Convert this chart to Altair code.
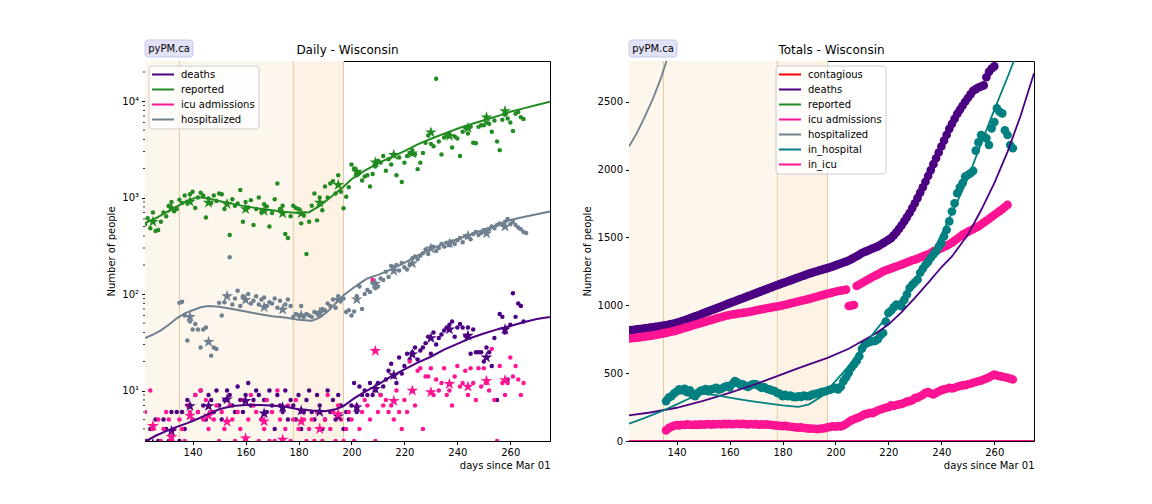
import altair as alt
import pandas as pd

FONT = "DejaVu Sans"
INDIGO = "#4b0082"
GREEN = "#228b22"
PINK = "#ff1493"
GRAY = "#708090"
TEAL = "#008080"
RED = "#ff0000"

# ---------------- common ----------------
X_DOMAIN = [122, 275]
X_TICKS = [140, 160, 180, 200, 220, 240, 260]
span_start = [122, 135, 178]
span_end = [135, 178, 197]
span_color = ["#fdf6ec", "#fdf6ec", "#fdf2e4"]
boundary_days = [135, 178, 197]
minor_ticks = [4, 5, 6, 7, 8, 9, 20, 30, 40, 50, 60, 70, 80, 90,
               200, 300, 400, 500, 600, 700, 800, 900,
               2000, 3000, 4000, 5000, 6000, 7000, 8000, 9000, 20000]

# ---------------- left panel: daily ----------------
daily_days = list(range(122, 266))
reported_daily = [
    530, 610, 480, 700, 450, 460, 560,
    700, 640, 820, 900, 720, 760, 950,
    880, 1050, 870, 1080, 1150, 780, 1000,
    1120, 1050, 620, 980, 880, 1050, 920,
    1100, 1080, 760, 880, 410, 960, 820,
    870, 1200, 560, 900, 790, 940, 520,
    760, 1000, 700, 850, 810, 500, 690,
    960, 1400, 760, 820, 420, 380, 640,
    820, 780, 760, 540, 650, 260, 560,
    820, 1100, 580, 1000, 740, 1300, 1000,
    1400, 1480, 1100, 1700, 1150, 775, 1020,
    1280, 2200, 2000, 1700, 1800, 1500, 1650,
    1700, 1300, 1750, 2100, 2400, 2300, 2700,
    1900, 2500, 2200, 2800, 1700, 2600, 1450,
    2300, 2700, 2900, 3100, 2800, 1970, 2300,
    2900, 3700, 4400, 3600, 3400, 17000, 3800,
    2800, 4200, 4400, 4600, 3300, 4300, 4100,
    2700, 4800, 5300, 4600, 5400, 3700, 3650,
    5400, 5600, 5600, 6000, 5800, 4800, 6300,
    3800, 3100, 6400, 7200, 6600, 6000, 4900,
    7400, 7700, 6800, 6500,
]
deaths_daily = [
    3, 2, 4, 1, 5, 3, 2,
    5, 4, 3, 6, 2, 6, 3,
    6, 4, 8, 7, 5, 9, 6,
    10, 7, 5, 9, 8, 6, 10,
    7, 5, 8, 10, 9, 7, 6,
    11, 8, 6, 9, 12, 7, 8,
    10, 9, 5, 8, 6, 10, 7,
    4, 9, 7, 6, 10, 5, 8,
    7, 5, 9, 4, 6, 8, 10,
    6, 5, 9, 7, 4, 5, 10,
    6, 8, 5, 9, 7, 4, 6,
    5, 7, 12, 6, 11, 9, 10,
    9, 12, 9, 10, 12, 9, 11,
    13, 16, 19, 14, 12, 22, 15,
    18, 24, 21, 25, 28, 21, 26,
    28, 31, 36, 24, 40, 30, 35,
    38, 42, 45, 48, 52, 36, 45,
    49, 45, 37, 45, 24, 43, 25,
    25, 25, 20, 28, 25, 18, 35,
    8, 62, 58, 40, 13, 48, 102,
    58, 80, 75, 52,
]
icu_daily = [
    6, 3, 10, 4, 2, 5, 3,
    4, 6, 5, 3, 4, 2, 5,
    4, 3, 7, 6, 5, 9, 6,
    10, 5, 8, 4, 6, 5, 7,
    3, 6, 4, 8, 7, 5, 3,
    6, 4, 8, 3, 5, 9, 7,
    6, 3, 5, 4, 8, 3, 6,
    3, 10, 5, 3, 4, 7, 3,
    5, 8, 4, 6, 5, 3, 4,
    5, 3, 6, 4, 3, 5, 9,
    4, 6, 3, 7, 5, 3, 4,
    6, 5, 3, 7, 4, 6, 8,
    7, 5, 140, 3, 6, 9, 7,
    8, 6, 7, 5, 10, 6, 4,
    8, 6, 20, 10, 7, 16, 17,
    4, 14, 14, 17, 9, 13, 10,
    12, 17, 9, 10, 7, 14, 18,
    11, 12, 16, 9, 17, 12, 8,
    17, 11, 17, 12, 10, 27, 8,
    3, 18, 12, 9, 12, 22, 14,
    18, 13, 9, 12,
]
hosp_days = list(range(135, 267))
hosp_daily = [
    81, 83, 60, 33, 52, 43, 49,
    43, 28, 43, 45, 32, 23, 28,
    27, 81, 60, 82, 95, 240, 78,
    90, 108, 75, 95, 88, 100, 80,
    85, 95, 78, 88, 92, 75, 82,
    80, 90, 72, 85, 70, 78, 88,
    75, 58, 62, 60, 75, 58, 62,
    60, 58, 65, 63, 60, 70, 68,
    80, 75, 88, 72, 95, 85, 90,
    65, 68, 60, 66, 95, 120, 70,
    100, 110, 105, 130, 115, 120, 145,
    140, 170, 150, 195, 190, 200, 175,
    210, 190, 180, 200, 235, 245, 230,
    250, 265, 290, 260, 300, 310, 280,
    300, 330, 310, 340, 320, 350, 330,
    360, 380, 345, 400, 390, 370, 420,
    440, 410, 430, 460, 440, 470, 500,
    480, 520, 540, 520, 560, 600, 530,
    560, 520, 490, 470, 440, 430,
]

week_days = [125, 132, 139, 146, 153, 160, 167, 174, 181, 188,
             195, 202, 209, 216, 223, 230, 237, 244, 251, 258]
reported_week = [561, 773, 905, 884, 857, 760, 725, 686, 686, 884,
                 1350, 1850, 2320, 2760, 2870, 4740, 4340, 5280, 6770, 7880]
deaths_week = [2.8, 3.8, 6.9, 6.9, 8.1, 7.8, 5.8, 6.7, 6.2, 6.0,
               5.4, 6.7, 10.4, 14.4, 23.7, 35, 43, 37, 22, 43]
icu_week = [4.3, 3.3, 5.5, 5.5, 4.75, 3.2, 4.8, 3.1, 4.8, 4.0,
            5.7, 2.5, 25.7, 7.8, 10, 9.6, 11.7, 11, 12.6, 12.8]
hosp_week_days = [139, 146, 153, 160, 167, 174, 181, 188, 195, 202,
                  209, 216, 223, 230, 237, 244, 251, 258]
hosp_week = [58, 32, 95, 87, 73, 69, 60, 64, 87, 88,
             128, 174, 208, 297, 335, 400, 425, 500]

reported_line_days = [122, 126, 130, 135, 138, 142, 146, 150, 155, 160,
                      165, 170, 175, 180, 184, 188, 192, 197, 200, 205,
                      210, 215, 220, 225, 231, 236, 241, 246, 251, 256,
                      260, 265, 270, 275]
reported_line = [545, 610, 700, 835, 930, 1015, 980, 920, 860, 810,
                 770, 740, 710, 690, 705, 820, 1000, 1295, 1550, 1900,
                 2260, 2620, 3030, 3550, 4160, 4700, 5290, 5850, 6450, 7100,
                 7750, 8400, 9100, 9840]
hosp_line_days = [122, 125, 128, 131, 134, 137, 140, 143, 146, 150,
                  155, 160, 165, 170, 175, 180, 185, 188, 191, 194,
                  197, 200, 203, 206, 210, 215, 220, 225, 230, 235,
                  240, 245, 250, 255, 260, 265, 270, 275]
hosp_line = [35, 38, 42, 48, 56, 63, 68, 73, 75, 74,
             70, 66, 62, 59, 57, 54, 53, 57, 66, 80,
             97, 112, 128, 145, 158, 180, 210, 250, 292, 335,
             370, 415, 465, 520, 585, 630, 670, 715]
deaths_line_days = [122, 126, 130, 134, 138, 142, 146, 150, 155, 160,
                    165, 170, 175, 180, 185, 190, 194, 197, 201, 205,
                    210, 215, 220, 225, 230, 235, 240, 245, 250, 255,
                    260, 265, 270, 275]
deaths_line = [2.95, 3.4, 3.8, 4.2, 4.6, 5.1, 5.7, 6.4, 6.9, 7.1,
               7.1, 7.0, 6.8, 6.4, 6.2, 6.1, 6.4, 6.9, 8.3, 9.7,
               11.5, 14, 16.6, 19.5, 22.4, 26.5, 30.5, 35, 39, 43,
               46.6, 51, 55, 58]

left_series = ["deaths", "reported", "icu admissions", "hospitalized"]
left_colors = [INDIGO, GREEN, PINK, GRAY]

# ---------------- right panel: totals ----------------
cum_deaths_days = list(range(122, 261))
cum_deaths = [
    815, 817, 820, 822, 825, 827, 830, 832, 835, 838,
    841, 844, 847, 850, 853, 857, 861, 865, 870, 876,
    883, 890, 897, 904, 911, 918, 925, 932, 940, 948,
    955, 963, 970, 977, 985, 992, 1000, 1008, 1016, 1023,
    1030, 1038, 1045, 1052, 1060, 1067, 1074, 1082, 1090, 1097,
    1104, 1112, 1119, 1127, 1134, 1142, 1149, 1156, 1163, 1170,
    1177, 1184, 1191, 1198, 1205, 1212, 1219, 1226, 1233, 1239,
    1245, 1251, 1257, 1263, 1268, 1274, 1280, 1287, 1294, 1301,
    1308, 1315, 1322, 1330, 1340, 1350, 1361, 1372, 1385, 1393,
    1401, 1409, 1418, 1426, 1434, 1446, 1458, 1470, 1482, 1495,
    1515, 1538, 1563, 1590, 1620, 1650, 1680, 1716, 1752, 1790,
    1830, 1870, 1910, 1953, 1996, 2040, 2083, 2126, 2170, 2213,
    2256, 2300, 2337, 2374, 2410, 2440, 2470, 2500, 2527, 2554,
    2580, 2593, 2605, 2612, 2620, 2680, 2720, 2745, 2760,
]
cum_icu_days = list(range(122, 266))
cum_icu = [
    755, 757, 759, 762, 764, 767, 769, 772, 775, 778,
    781, 785, 789, 793, 797, 801, 805, 810, 815, 821,
    827, 833, 839, 845, 851, 857, 862, 868, 874, 880,
    886, 891, 897, 903, 908, 914, 919, 925, 928, 932,
    935, 938, 941, 944, 947, 950, 953, 958, 962, 966,
    970, 974, 978, 981, 985, 988, 991, 995, 999, 1004,
    1009, 1014, 1019, 1023, 1028, 1033, 1037, 1042, 1047, 1052,
    1058, 1063, 1069, 1074, 1080, 1085, 1090, 1095, 1100, 1105,
    1108, 1111, 1115, 995, 998, 1002, 1142, 1153, 1164, 1175,
    1186, 1197, 1208, 1218, 1228, 1239, 1250, 1258, 1265, 1272,
    1279, 1286, 1293, 1300, 1308, 1316, 1324, 1332, 1336, 1344,
    1352, 1360, 1368, 1376, 1385, 1397, 1405, 1413, 1421, 1430,
    1440, 1450, 1462, 1476, 1490, 1505, 1520, 1530, 1541, 1551,
    1561, 1571, 1581, 1595, 1609, 1623, 1637, 1651, 1665, 1680,
    1694, 1708, 1724, 1740,
]
in_hosp_days = list(range(136, 268))
in_hosp = [
    294, 320, 330, 350, 365, 380, 372, 385, 360, 373,
    340, 331, 355, 370, 375, 382, 368, 380, 385, 392,
    378, 385, 398, 404, 395, 420, 441, 430, 415, 417,
    405, 398, 412, 420, 417, 405, 392, 398, 385, 380,
    372, 368, 355, 348, 331, 340, 330, 335, 325, 323,
    330, 325, 335, 330, 331, 340, 345, 350, 355, 363,
    365, 372, 378, 385, 392, 380, 400, 441, 470, 502,
    540, 564, 590, 625, 680, 711, 722, 730, 735, 738,
    750, 780, 796, 880, 944, 960, 985, 1005, 1000, 993,
    1040, 1080, 1127, 1150, 1170, 1189, 1240, 1270, 1299, 1320,
    1350, 1375, 1397, 1430, 1458, 1507, 1556, 1618,
    1691, 1752, 1826, 1870, 1900, 1949, 1960, 1973, 1990, 2140,
    2200, 2255, 2245, 2230, 2181, 2304, 2350, 2451, 2426, 2414,
    2290, 2255, 2181, 2157,
]
in_icu = [
    78, 95, 105, 112, 118, 115, 120, 118, 122, 120,
    118, 121, 119, 123, 120, 122, 125, 121, 124, 123,
    125, 122, 126, 124, 126, 123, 125, 127, 124, 126,
    124, 122, 125, 123, 124, 120, 122, 121, 123, 120,
    118, 115, 113, 112, 110, 112, 108, 105, 103, 100,
    98, 100, 96, 95, 91, 92, 90, 88, 89, 92,
    95, 100, 104, 109, 105, 110, 107, 115, 125, 140,
    152, 160, 168, 175, 185, 196, 200, 207, 205, 215,
    225, 232, 238, 245, 250, 262, 258, 265, 270, 274,
    280, 290, 294, 300, 316, 320, 330, 340, 355, 360,
    350, 343, 355, 365, 375, 380, 385, 392, 388, 392,
    400, 405, 410, 412, 418, 422, 429, 435, 440, 445,
    453, 460, 470, 480, 490, 484, 478, 474, 470, 466,
    460, 453,
]
model_deaths_days = [122, 130, 140, 150, 160, 170, 178, 185, 190, 197,
                     205, 210, 215, 220, 225, 230, 235, 240, 244, 250,
                     255, 260, 265, 270, 275]
model_deaths = [189, 210, 245, 295, 355, 420, 478, 530, 565, 613,
                680, 735, 790, 858, 950, 1054, 1165, 1280, 1360, 1520,
                1700, 1900, 2130, 2400, 2710]
model_in_hosp_days = [122, 128, 135, 140, 145, 150, 155, 160, 165, 170,
                      175, 180, 186, 190, 195, 200, 205, 210, 215, 220,
                      225, 230, 236, 240, 245, 250, 255, 260, 265, 268]
model_in_hosp = [127, 170, 225, 270, 315, 348, 338, 319, 303, 289,
                 275, 262, 252, 270, 331, 441, 551, 686, 810, 931,
                 1050, 1176, 1360, 1520, 1720, 1935, 2190, 2440, 2680, 2830]
model_hosp_days = [122, 125, 128, 131, 134, 136, 138]
model_hosp = [2170, 2270, 2390, 2520, 2670, 2790, 2920]
model_in_icu_days = [122, 275]
model_in_icu = [0, 0]

right_series = ["contagious", "deaths", "reported", "icu admissions",
                "hospitalized", "in_hospital", "in_icu"]
right_colors = [RED, INDIGO, GREEN, PINK, GRAY, TEAL, PINK]

STAR = ("M0,-1 L0.2245,-0.309 L0.951,-0.309 L0.3633,0.118 L0.588,0.809 "
        "L0,0.382 L-0.588,0.809 L-0.3633,0.118 L-0.951,-0.309 L-0.2245,-0.309 Z")


def frame(days, values, name):
    return pd.DataFrame({"day": days, "value": values, "series": name})


W, H = 405, 380


def xenc(field="day"):
    return alt.X(f"{field}:Q",
                 scale=alt.Scale(domain=X_DOMAIN, nice=False, zero=False),
                 axis=alt.Axis(values=X_TICKS, title="days since Mar 01",
                               titleAnchor="end", titlePadding=3, format="d"))


spans = pd.DataFrame({"start": span_start, "end": span_end, "fill": span_color})
bounds = pd.DataFrame({"day": boundary_days})


def background():
    rect = alt.Chart(spans).mark_rect(clip=True).encode(
        x=xenc("start"), x2="end:Q",
        fill=alt.Fill("fill:N", scale=None, legend=None))
    rules = alt.Chart(bounds).mark_rule(color="#e3c9a3", strokeWidth=1, clip=True).encode(
        x=xenc("day"))
    return rect, rules


def header(title):
    tag = pd.DataFrame({"label": ["pyPM.ca"], "title": [title]})
    box = alt.Chart(tag).mark_rect(fill="#e2e2f7", stroke="#c9c9ee", cornerRadius=3).encode(
        x=alt.value(0), x2=alt.value(48), y=alt.value(-21), y2=alt.value(-4))
    txt = alt.Chart(tag).mark_text(font=FONT, fontSize=10, color="black",
                                   align="center", baseline="middle").encode(
        x=alt.value(24), y=alt.value(-12), text="label:N")
    ttl = alt.Chart(tag).mark_text(font=FONT, fontSize=12, color="black",
                                   align="center", baseline="middle").encode(
        x=alt.value(W / 2), y=alt.value(-11), text="title:N")
    return box, txt, ttl


def legend_layers(names, colors, x0, width):
    """Matplotlib-style legend box drawn inside the plot area."""
    n = len(names)
    one = pd.DataFrame({"k": [0]})
    layers = [alt.Chart(one).mark_rect(fill="white", fillOpacity=0.8, stroke="#cccccc",
                                       strokeWidth=1, cornerRadius=3).encode(
        x=alt.value(x0), x2=alt.value(x0 + width),
        y=alt.value(5), y2=alt.value(8 + 15 * n))]
    for i, (name, col) in enumerate(zip(names, colors)):
        yy = 13.5 + 15 * i
        row = pd.DataFrame({"label": [name]})
        layers.append(alt.Chart(row).mark_rule(color=col, strokeWidth=2).encode(
            x=alt.value(x0 + 3), x2=alt.value(x0 + 25), y=alt.value(yy)))
        layers.append(alt.Chart(row).mark_text(font=FONT, fontSize=10, color="black",
                                               align="left", baseline="middle").encode(
            x=alt.value(x0 + 32), y=alt.value(yy), text="label:N"))
    return layers


# ---- left chart ----
ly = alt.Y("value:Q",
           scale=alt.Scale(type="log", domain=[3, 26000], nice=False),
           axis=alt.Axis(values=[10, 100, 1000, 10000], title="Number of people",
                         labelExpr="datum.value == 10 ? '10\u00b9' : datum.value == 100 ? '10\u00b2' : datum.value == 1000 ? '10\u00b3' : '10\u2074'"))
lcol = alt.Color("series:N", scale=alt.Scale(domain=left_series, range=left_colors), legend=None)

left_pts = pd.concat([
    frame(daily_days, deaths_daily, "deaths"),
    frame(daily_days, reported_daily, "reported"),
    frame(daily_days, icu_daily, "icu admissions"),
    frame(hosp_days, hosp_daily, "hospitalized"),
])
left_stars = pd.concat([
    frame(week_days, deaths_week, "deaths"),
    frame(week_days, reported_week, "reported"),
    frame(week_days, icu_week, "icu admissions"),
    frame(hosp_week_days, hosp_week, "hospitalized"),
])
left_lines = pd.concat([
    frame(deaths_line_days, deaths_line, "deaths"),
    frame(reported_line_days, reported_line, "reported"),
    frame(hosp_line_days, hosp_line, "hospitalized"),
])
minor_df = pd.DataFrame({"value": minor_ticks})

lrect, lrules = background()
lbox, ltxt, lttl = header("Daily - Wisconsin")
l_minor = alt.Chart(minor_df).mark_rule(color="black", strokeWidth=0.8, clip=False).encode(
    x=alt.value(-2), x2=alt.value(0), y=ly)
l_dots = alt.Chart(left_pts).mark_point(filled=True, size=20, opacity=1, strokeWidth=0, clip=True).encode(
    x=xenc(), y=ly, color=lcol)
l_stars = alt.Chart(left_stars).mark_point(filled=True, shape=STAR, size=150, opacity=1, strokeWidth=0, clip=True).encode(
    x=xenc(), y=ly, color=lcol)
l_lines = alt.Chart(left_lines).mark_line(strokeWidth=2, clip=True).encode(
    x=xenc(), y=ly, color=lcol, detail="series:N")

left = alt.layer(lrect, lrules, l_minor, l_dots, l_stars, l_lines, lbox, ltxt, lttl,
                 *legend_layers(left_series, left_colors, 4, 110)).properties(
    width=W, height=H)

# ---- right chart ----
ry = alt.Y("value:Q", scale=alt.Scale(domain=[0, 2800], nice=False, zero=False),
           axis=alt.Axis(values=[0, 500, 1000, 1500, 2000, 2500], title="Number of people", format="d"))
rcol = alt.Color("series:N", scale=alt.Scale(domain=right_series, range=right_colors), legend=None)

right_pts = pd.concat([
    frame(cum_deaths_days, cum_deaths, "deaths"),
    frame(cum_icu_days, cum_icu, "icu admissions"),
    frame(in_hosp_days, in_hosp, "in_hospital"),
    frame(in_hosp_days, in_icu, "in_icu"),
])
right_lines = pd.concat([
    frame(model_hosp_days, model_hosp, "hospitalized"),
    frame(model_deaths_days, model_deaths, "deaths"),
    frame(model_in_hosp_days, model_in_hosp, "in_hospital"),
    frame(model_in_icu_days, model_in_icu, "in_icu"),
])

rrect, rrules = background()
rbox, rtxt, rttl = header("Totals - Wisconsin")
r_dots = alt.Chart(right_pts).mark_point(filled=True, size=75, opacity=1, strokeWidth=0, clip=True).encode(
    x=xenc(), y=ry, color=rcol)
r_lines = alt.Chart(right_lines).mark_line(strokeWidth=1.8, clip=True).encode(
    x=xenc(), y=ry, color=rcol, detail="series:N")

right = alt.layer(rrect, rrules, r_dots, r_lines, rbox, rtxt, rttl,
                  *legend_layers(right_series, right_colors, 147, 110)).properties(
    width=W, height=H)

chart = alt.hconcat(left, right, spacing=30).resolve_scale(color="independent").properties(
    padding={"left": 98, "top": 31, "right": 5, "bottom": 5}
).configure_view(stroke="black", strokeWidth=1).configure_axis(
    labelFont=FONT, titleFont=FONT, labelFontSize=10, titleFontSize=10,
    titleFontWeight="normal", labelColor="black", titleColor="black",
    tickColor="black", domainColor="black", tickSize=3.5, labelPadding=3,
    grid=False
).configure_axisY(titlePadding=5)

chart.save("out.html", embed_options={"renderer": "svg", "actions": False})
